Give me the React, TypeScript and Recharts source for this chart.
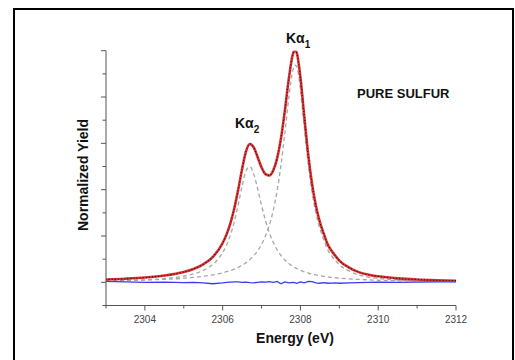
import React from 'react';
import { ComposedChart, Line, XAxis, YAxis } from 'recharts';

const energy = [
  2303, 2303.5, 2304, 2304.5, 2305, 2305.25, 2305.5, 2305.75, 2306, 2306.1,
  2306.2, 2306.3, 2306.4, 2306.5, 2306.6, 2306.7, 2306.8, 2306.9, 2307, 2307.1,
  2307.2, 2307.3, 2307.4, 2307.5, 2307.6, 2307.7, 2307.8, 2307.85, 2307.9, 2308,
  2308.1, 2308.2, 2308.3, 2308.4, 2308.5, 2308.6, 2308.7, 2308.8, 2308.9, 2309,
  2309.25, 2309.5, 2309.75, 2310, 2310.5, 2311, 2311.5, 2312,
];

const totalYield = [
  0.061, 0.078, 0.103, 0.146, 0.223, 0.288, 0.389, 0.551, 0.849, 1.035,
  1.28, 1.6, 2.002, 2.448, 2.828, 2.987, 2.91, 2.701, 2.48, 2.335,
  2.306, 2.414, 2.676, 3.112, 3.712, 4.388, 4.907, 5.01, 4.967, 4.419,
  3.566, 2.755, 2.116, 1.644, 1.301, 1.049, 0.82, 0.68, 0.57, 0.47,
  0.32, 0.22, 0.165, 0.13, 0.085, 0.06, 0.045, 0.035,
];

const kAlpha1 = [
  0.032, 0.039, 0.049, 0.065, 0.089, 0.107, 0.131, 0.161, 0.206, 0.229,
  0.255, 0.286, 0.324, 0.369, 0.424, 0.492, 0.576, 0.683, 0.82, 0.999,
  1.235, 1.551, 1.974, 2.533, 3.229, 3.981, 4.56, 4.688, 4.668, 4.159,
  3.338, 2.554, 1.937, 1.484, 1.157, 0.919, 0.702, 0.572, 0.471, 0.379,
  0.246, 0.158, 0.112, 0.085, 0.051, 0.033, 0.023, 0.017,
];

const kAlpha2 = [
  0.029, 0.039, 0.054, 0.081, 0.134, 0.181, 0.258, 0.39, 0.643, 0.806,
  1.025, 1.314, 1.678, 2.079, 2.404, 2.495, 2.334, 2.018, 1.66, 1.336,
  1.071, 0.863, 0.702, 0.579, 0.483, 0.407, 0.347, 0.322, 0.299, 0.26,
  0.228, 0.201, 0.179, 0.16, 0.144, 0.13, 0.118, 0.108, 0.099, 0.091,
  0.074, 0.062, 0.053, 0.045, 0.034, 0.027, 0.022, 0.018,
];

const residual = [
  0.02, 0.01, 0.0, 0.005, -0.005, 0.0, -0.01, -0.03, -0.01, 0.0,
  0.005, 0.01, 0.01, 0.0, 0.005, -0.005, -0.01, 0.0, 0.01, 0.005,
  0.015, 0.0, 0.02, -0.03, 0.01, -0.01, 0.0, -0.005, -0.02, 0.01,
  -0.01, 0.02, 0.015, -0.01, -0.02, -0.005, -0.02, -0.015, -0.01, -0.02,
  -0.01, -0.005, 0.0, 0.005, 0.0, 0.005, 0.01, 0.01,
];

const xTicks = [2303, 2304, 2305, 2306, 2307, 2308, 2309, 2310, 2311, 2312];
const xTickLabels = [2304, 2306, 2308, 2310, 2312];
const yTicks = [-0.5, 0, 0.5, 1, 1.5, 2, 2.5, 3, 3.5, 4, 4.5, 5];

const data = energy.map((e, i) => ({
  e,
  total: totalYield[i],
  ka1: kAlpha1[i],
  ka2: kAlpha2[i],
  res: residual[i],
}));

const FONT = '"Liberation Sans", Arial, Helvetica, sans-serif';
const AXIS = '#555';

function XTick(props: any) {
  const { x, y, payload } = props;
  const v = payload.value;
  const labeled = xTickLabels.includes(v);
  return (
    <g>
      <line x1={x} x2={x} y1={y} y2={y + (labeled ? 5 : 3)} stroke={AXIS} strokeWidth={1} />
      {labeled && (
        <text x={x} y={y + 17.5} textAnchor="middle" fontSize={10} fill="#444" fontFamily={FONT}>
          {v}
        </text>
      )}
    </g>
  );
}

function YTick(props: any) {
  const { x, y, payload } = props;
  const major = Number.isInteger(payload.value);
  return <line x1={x - (major ? 5 : 3.5)} x2={x} y1={y} y2={y} stroke={AXIS} strokeWidth={1} />;
}

export default function App() {
  return (
    <div style={{ position: 'absolute', left: 0, top: 0, width: 515, height: 360, overflow: 'hidden', background: '#fff' }}>
      <ComposedChart
        width={515}
        height={360}
        data={data}
        margin={{ top: 50.7, right: 59, bottom: 24.5, left: 86 }}
      >
        <XAxis
          type="number"
          dataKey="e"
          domain={[2303, 2312]}
          allowDataOverflow
          ticks={xTicks}
          height={30}
          tickSize={0}
          tickMargin={0}
          tickLine={false}
          axisLine={{ stroke: AXIS, strokeWidth: 1 }}
          tick={<XTick />}
          interval={0}
        />
        <YAxis
          type="number"
          domain={[-0.5, 5]}
          allowDataOverflow
          ticks={yTicks}
          width={20}
          tickSize={0}
          tickMargin={0}
          tickLine={false}
          axisLine={{ stroke: AXIS, strokeWidth: 1 }}
          tick={<YTick />}
          interval={0}
        />
        <Line dataKey="ka2" type="monotone" stroke="#a6a6a6" strokeWidth={1.3} strokeDasharray="4 3" dot={false} isAnimationActive={false} />
        <Line dataKey="ka1" type="monotone" stroke="#a6a6a6" strokeWidth={1.3} strokeDasharray="4 3" dot={false} isAnimationActive={false} />
        <Line dataKey="res" type="linear" stroke="#3b3bf0" strokeWidth={1.3} dot={false} isAnimationActive={false} />
        <Line dataKey="total" type="monotone" stroke="#e03030" strokeWidth={2.6} dot={false} isAnimationActive={false} />
        <Line dataKey="total" type="monotone" stroke="#1a1a1a" strokeWidth={1.2} strokeDasharray="0.1 3" strokeLinecap="round" dot={false} isAnimationActive={false} />
      </ComposedChart>
      <svg width={515} height={360} style={{ position: 'absolute', left: 0, top: 0, pointerEvents: 'none' }}>
        <g fontFamily={FONT} fontWeight="bold" fill="#111">
          <text x={286} y={43} fontSize={14}>
            Kα<tspan fontSize={10} dy={5}>1</tspan>
          </text>
          <text x={235} y={128} fontSize={14}>
            Kα<tspan fontSize={10} dy={5}>2</tspan>
          </text>
          <text x={357} y={98} fontSize={13}>PURE SULFUR</text>
          <text x={295} y={343} fontSize={14} textAnchor="middle">Energy (eV)</text>
          <text x={87.5} y={175} fontSize={14} textAnchor="middle" transform="rotate(-90 87.5 175)">
            Normalized Yield
          </text>
        </g>
      </svg>
      <div
        style={{
          position: 'absolute',
          left: 13,
          top: 8,
          width: 501,
          height: 400,
          border: '2px solid #000',
          boxSizing: 'border-box',
          pointerEvents: 'none',
        }}
      />
    </div>
  );
}
